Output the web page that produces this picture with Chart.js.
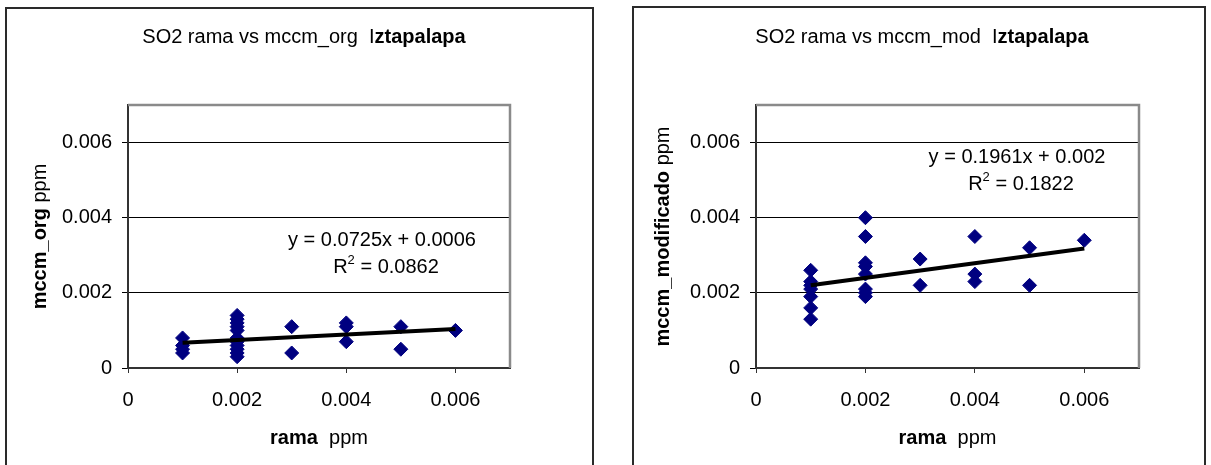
<!DOCTYPE html>
<html>
<head>
<meta charset="utf-8">
<script src="https://cdn.jsdelivr.net/npm/chart.js@4.4.1/dist/chart.umd.min.js"></script>
<style>
    html, body { margin: 0; padding: 0; background: #fff; }
    body { width: 1211px; height: 465px; position: relative; overflow: hidden; }
    .box { position: absolute; border: 2px solid #2a2a2a; box-sizing: border-box; }
    .holder { position: absolute; top: 0; height: 465px; }
</style>
</head>
<body>
<div class="box" style="left:5px; top:7px; width:589px; height:480px;"></div>
<div class="box" style="left:632px; top:6px; width:574px; height:480px;"></div>
<div class="holder" style="left:0; width:615px;"><canvas id="chartOrg"></canvas></div>
<div class="holder" style="left:615px; width:596px;"><canvas id="chartMod"></canvas></div>

<script>
// Ejes compartidos
const tickValues = [0, 0.002, 0.004, 0.006];
const tickLabels = ['0', '0.002', '0.004', '0.006'];
const axisMax = 0.007;

// SO2 rama vs mccm_org
const ramaOrg = [0.001, 0.001, 0.001, 0.001,
    0.002, 0.002, 0.002, 0.002, 0.002, 0.002, 0.002, 0.002, 0.002, 0.002, 0.002,
    0.003, 0.003, 0.004, 0.004, 0.004, 0.005, 0.005, 0.006];
const mccmOrg = [0.0008, 0.0006, 0.0005, 0.0004,
    0.0014, 0.0013, 0.0012, 0.0011, 0.0010, 0.0008, 0.0007, 0.0006, 0.0005, 0.0004, 0.0003,
    0.0011, 0.0004, 0.0012, 0.0011, 0.0007, 0.0011, 0.0005, 0.0010];
const trendOrgX = [0.001, 0.006];
const trendOrgY = [0.00067, 0.00104];
const eqOrg = 'y = 0.0725x + 0.0006';
const r2Org = ' = 0.0862';

// SO2 rama vs mccm_mod
const ramaMod = [0.001, 0.001, 0.001, 0.001, 0.001, 0.001, 0.001,
    0.002, 0.002, 0.002, 0.002, 0.002, 0.002, 0.002, 0.002,
    0.003, 0.003, 0.004, 0.004, 0.004, 0.005, 0.005, 0.006];
const mccmMod = [0.0026, 0.0023, 0.0022, 0.0021, 0.0019, 0.0016, 0.0013,
    0.0040, 0.0035, 0.0028, 0.0027, 0.0025, 0.0021, 0.0020, 0.0019,
    0.0029, 0.0022, 0.0035, 0.0025, 0.0023, 0.0032, 0.0022, 0.0034];
const trendModX = [0.001, 0.006];
const trendModY = [0.00220, 0.00318];
const eqMod = 'y = 0.1961x + 0.002';
const r2Mod = ' = 0.1822';

const FONT = '"Liberation Sans", Arial, sans-serif';
const reg = '20px ' + FONT;
const bold = 'bold 20px ' + FONT;

function toPoints(xs, ys) {
    return xs.map((x, i) => ({ x: x, y: ys[i] }));
}

// texto con partes de distinto estilo, centrado en (cx, cy)
function drawRich(ctx, parts, cx, cy, angle) {
    ctx.save();
    ctx.translate(cx, cy);
    ctx.rotate(angle || 0);
    ctx.textBaseline = 'middle';
    ctx.textAlign = 'left';
    ctx.fillStyle = '#000';
    let total = 0;
    parts.forEach(p => { ctx.font = p.font; total += ctx.measureText(p.text).width; });
    let x = -total / 2;
    parts.forEach(p => {
        ctx.font = p.font;
        ctx.fillText(p.text, x, p.dy || 0);
        x += ctx.measureText(p.text).width;
    });
    ctx.restore();
}

const textPlugin = {
    id: 'excelText',
    afterDraw(chart, args, o) {
        const ctx = chart.ctx;
        const area = chart.chartArea;
        drawRich(ctx, o.title, o.titleX, 37);
        drawRich(ctx, [{ text: 'rama', font: bold }, { text: '  ppm', font: reg }],
            (area.left + area.right) / 2, 438);
        drawRich(ctx, [{ text: o.yName, font: bold }, { text: ' ppm', font: reg }],
            o.yTitleX, (area.top + area.bottom) / 2, -Math.PI / 2);
        drawRich(ctx, [{ text: o.eq, font: reg }], o.eqX, o.eqY);
        drawRich(ctx, [
            { text: 'R', font: reg },
            { text: '2', font: '13px ' + FONT, dy: -7 },
            { text: o.r2, font: reg }
        ], o.eqX + 4, o.eqY + 27);
    }
};

const framePlugin = {
    id: 'plotFrame',
    beforeDatasetsDraw(chart) {
        const ctx = chart.ctx;
        const a = chart.chartArea;
        ctx.save();
        ctx.strokeStyle = '#8a8a8a';
        ctx.lineWidth = 2.5;
        ctx.beginPath();
        ctx.moveTo(a.left, a.top);
        ctx.lineTo(a.right, a.top);
        ctx.lineTo(a.right, a.bottom);
        ctx.stroke();
        ctx.restore();
    }
};

function makeChart(id, cfg) {
    const ctx = document.getElementById(id).getContext('2d');
    const tickCb = function(value) {
        const i = tickValues.findIndex(v => Math.abs(v - value) < 1e-9);
        return i >= 0 ? tickLabels[i] : '';
    };
    return new Chart(ctx, {
        type: 'scatter',
        data: {
            datasets: [
                {
                    data: toPoints(cfg.trendX, cfg.trendY),
                    showLine: true,
                    borderColor: '#000',
                    borderWidth: 4,
                    pointRadius: 0,
                    order: 0
                },
                {
                    data: toPoints(cfg.xs, cfg.ys),
                    pointStyle: 'rectRot',
                    pointRadius: 7,
                    pointBorderWidth: 1,
                    backgroundColor: '#000080',
                    borderColor: '#000080',
                    order: 1
                }
            ]
        },
        options: {
            responsive: true,
            maintainAspectRatio: false,
            animation: false,
            layout: {
                padding: { top: 105, right: cfg.padRight, left: 0, bottom: 0 }
            },
            plugins: {
                legend: { display: false },
                tooltip: { enabled: false },
                excelText: cfg.text
            },
            scales: {
                x: {
                    type: 'linear',
                    min: 0,
                    max: axisMax,
                    afterBuildTicks: s => { s.ticks = tickValues.map(v => ({ value: v })); },
                    afterFit: s => { s.height = 97; },
                    border: { display: true, color: '#333', width: 2 },
                    grid: { drawOnChartArea: false, drawTicks: true, tickLength: 5, color: '#333' },
                    ticks: { callback: tickCb, font: { size: 20, family: FONT }, color: '#000', padding: 15, maxRotation: 0 }
                },
                y: {
                    type: 'linear',
                    min: 0,
                    max: axisMax,
                    afterBuildTicks: s => { s.ticks = tickValues.map(v => ({ value: v })); },
                    afterFit: s => { s.width = cfg.yWidth; },
                    border: { display: true, color: '#333', width: 2 },
                    grid: { drawOnChartArea: true, drawTicks: true, tickLength: 6, color: '#000', lineWidth: 1 },
                    ticks: { callback: tickCb, font: { size: 20, family: FONT }, color: '#000', padding: 10 }
                }
            }
        },
        plugins: [framePlugin, textPlugin]
    });
}

makeChart('chartOrg', {
    xs: ramaOrg, ys: mccmOrg, trendX: trendOrgX, trendY: trendOrgY,
    yWidth: 128, padRight: 105,
    text: {
        title: [{ text: 'SO2 rama vs mccm_org  I', font: reg }, { text: 'ztapalapa', font: bold }],
        titleX: 304, yName: 'mccm_org', yTitleX: 40,
        eq: eqOrg, r2: r2Org, eqX: 382, eqY: 240
    }
});

makeChart('chartMod', {
    xs: ramaMod, ys: mccmMod, trendX: trendModX, trendY: trendModY,
    yWidth: 141, padRight: 72,
    text: {
        title: [{ text: 'SO2 rama vs mccm_mod  I', font: reg }, { text: 'ztapalapa', font: bold }],
        titleX: 307, yName: 'mccm_modificado', yTitleX: 48,
        eq: eqMod, r2: r2Mod, eqX: 402, eqY: 157
    }
});
</script>
</body>
</html>
